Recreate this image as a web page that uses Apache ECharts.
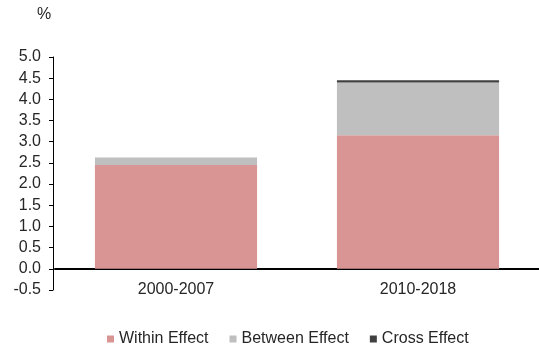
<!DOCTYPE html>
<html><head><meta charset="utf-8">
<script src="https://cdn.jsdelivr.net/npm/echarts@6/dist/echarts.min.js"></script>
<style>html,body{margin:0;padding:0;background:#fff}#c{width:539px;height:349px}</style>
</head><body><div id="c"></div>
<script>
const categories = ['2000-2007', '2010-2018'];
const withinEffect = [2.45, 3.15];
const betweenEffect = [0.18, 1.25];
const crossEffect = [0.0, 0.05];
const seriesNames = ['Within Effect', 'Between Effect', 'Cross Effect'];
const colors = ['#D99594', '#BFBFBF', '#404040'];

const chart = echarts.init(document.getElementById('c'), null, {renderer: 'canvas'});
const font = 'Liberation Sans, Arial, sans-serif';
const mk = (name, data, color) => ({
  name, type: 'bar', stack: 'total', data, barCategoryGap: '33%',
  itemStyle: {color}, emphasis: {disabled: true}
});
chart.setOption({
  animation: false,
  textStyle: {fontFamily: font},
  grid: {left: 55, right: -2, top: 57, bottom: 59},
  graphic: [{type: 'text', left: 37, top: 7, style: {text: '%', font: '16px ' + font, fill: '#262626'}}],
  legend: {
    top: 331, left: 107, itemWidth: 7, itemHeight: 7, itemGap: 21,
    icon: 'rect', data: seriesNames, padding: 0,
    textStyle: {fontSize: 16, color: '#262626', fontFamily: font}
  },
  xAxis: {
    type: 'category', data: categories,
    axisLine: {onZero: true, lineStyle: {color: '#000', width: 2}},
    axisTick: {show: false},
    axisLabel: {margin: -8, fontSize: 16, color: '#262626', fontFamily: font}
  },
  yAxis: {
    type: 'value', min: -0.5, max: 5.0, interval: 0.5, offset: 2,
    axisLine: {show: true, lineStyle: {color: '#000', width: 1}},
    axisTick: {show: true, length: 4, lineStyle: {color: '#000'}},
    splitLine: {show: false},
    axisLabel: {margin: 12, fontSize: 16, color: '#262626', fontFamily: font,
      formatter: v => v.toFixed(1)}
  },
  series: [
    mk(seriesNames[0], withinEffect, colors[0]),
    mk(seriesNames[1], betweenEffect, colors[1]),
    mk(seriesNames[2], crossEffect, colors[2])
  ]
});
</script></body></html>
